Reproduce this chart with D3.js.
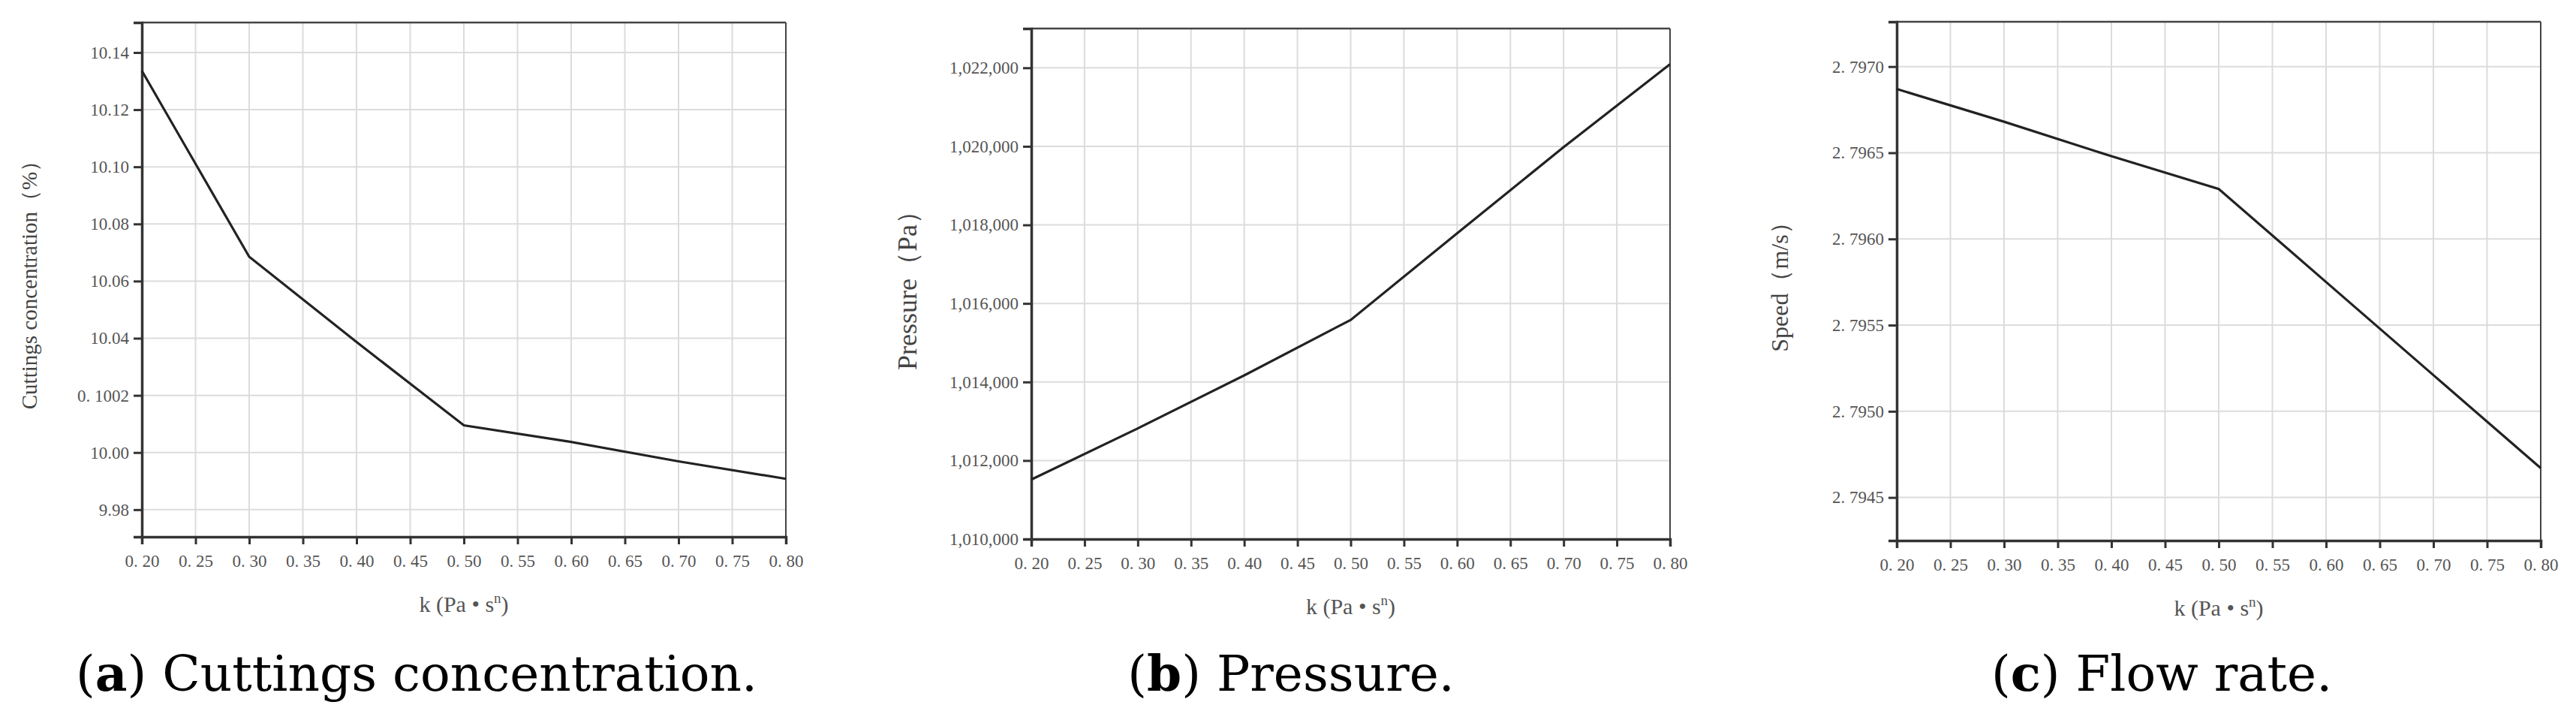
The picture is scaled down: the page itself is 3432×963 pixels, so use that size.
<!DOCTYPE html>
<html><head><meta charset="utf-8">
<script src="https://cdn.jsdelivr.net/npm/d3@7"></script>
<style>body{margin:0;background:#fff}</style></head>
<body><svg id="c" width="3432" height="963"></svg>
<script>
const kValues = [0.2,0.3,0.4,0.5,0.6,0.7,0.8];
const xTicks = [0.2,0.25,0.3,0.35,0.4,0.45,0.5,0.55,0.6,0.65,0.7,0.75,0.8];
const concentration = [10.1336,10.0685,10.0387,10.0095,10.0037,9.9969,9.9908];
const pressure = [1011515,1012818,1014168,1015580,1017785,1019980,1022094];
const speed = [2.79687,2.79668,2.79648,2.79629,2.79575,2.79521,2.79467];
const concTicks = [9.98,10.00,10.02,10.04,10.06,10.08,10.10,10.12,10.14];
const concTickLabels = ["9.98","10.00","0. 1002","10.04","10.06","10.08","10.10","10.12","10.14"];
const presTicks = [1010000,1012000,1014000,1016000,1018000,1020000,1022000];
const presTickLabels = ["1,010,000","1,012,000","1,014,000","1,016,000","1,018,000","1,020,000","1,022,000"];
const speedTicks = [2.7945,2.7950,2.7955,2.7960,2.7965,2.7970];
const speedTickLabels = ["2. 7945","2. 7950","2. 7955","2. 7960","2. 7965","2. 7970"];
const xTitle = "k (Pa • s";
const panels = [
  {l:189,r:1047,t:30,b:715,dom:[9.9705,10.1505],vals:concentration,ticks:concTicks,labels:concTickLabels,
   ytitle:"Cuttings concentration（%）",ytx:42,yts:29,ytw:"condensed",lbold:"a",caption:" Cuttings concentration.",capx:555},
  {l:1374,r:2225,t:38,b:718,dom:[1010000,1023000],vals:pressure,ticks:presTicks,labels:presTickLabels,
   ytitle:"Pressure（Pa）",ytx:1213,yts:36,lbold:"b",caption:" Pressure.",capx:1720},
  {l:2527,r:3385,t:29,b:720,dom:[2.79425,2.79726],vals:speed,ticks:speedTicks,labels:speedTickLabels,
   ytitle:"Speed（m/s）",ytx:2375,yts:32,lbold:"c",caption:" Flow rate.",capx:2880}
];
const svg = d3.select("#c");
const serif = "'Liberation Serif','DejaVu Serif',serif";
panels.forEach(p=>{
  const x = d3.scaleLinear().domain([0.2,0.8]).range([p.l,p.r]);
  const y = d3.scaleLinear().domain(p.dom).range([p.b,p.t]);
  const g = svg.append("g");
  g.selectAll(".vg").data(xTicks).join("line").attr("x1",d=>x(d)).attr("x2",d=>x(d))
    .attr("y1",p.t).attr("y2",p.b).attr("stroke","#dcdcdc").attr("stroke-width",2);
  g.selectAll(".hg").data(p.ticks).join("line").attr("y1",d=>y(d)).attr("y2",d=>y(d))
    .attr("x1",p.l).attr("x2",p.r).attr("stroke","#dcdcdc").attr("stroke-width",2);
  g.append("line").attr("x1",p.l).attr("x2",p.r).attr("y1",p.t).attr("y2",p.t).attr("stroke","#444").attr("stroke-width",2.5);
  g.append("line").attr("x1",p.r).attr("x2",p.r).attr("y1",p.t).attr("y2",p.b).attr("stroke","#444").attr("stroke-width",2);
  const xa = g.append("g").attr("transform",`translate(0,${p.b})`)
    .call(d3.axisBottom(x).tickValues(xTicks).tickSize(10).tickPadding(14).tickFormat(d=>d3.format(".2f")(d).replace(".",". ")));
  const ya = g.append("g").attr("transform",`translate(${p.l},0)`)
    .call(d3.axisLeft(y).tickValues(p.ticks).tickSize(11).tickPadding(6).tickFormat((d,i)=>p.labels[i]));
  [xa,ya].forEach(a=>{
    a.select(".domain").attr("stroke","#333").attr("stroke-width",3.5);
    a.selectAll(".tick line").attr("stroke","#333").attr("stroke-width",3);
    a.selectAll("text").attr("font-family",serif).attr("font-size",23).attr("fill","#555");
  });
  g.append("path").datum(kValues.map((k,i)=>[k,p.vals[i]]))
    .attr("d",d3.line().x(d=>x(d[0])).y(d=>y(d[1])))
    .attr("fill","none").attr("stroke","#222").attr("stroke-width",3.2);
  const xt = g.append("text").attr("x",(p.l+p.r)/2).attr("y",p.b+100).attr("text-anchor","middle")
    .attr("font-family",serif).attr("font-size",30).attr("fill","#555");
  xt.append("tspan").text(xTitle);
  xt.append("tspan").text("n").attr("font-size",19).attr("dy",-12);
  xt.append("tspan").text(")").attr("dy",12);
  g.append("text").attr("transform",`translate(${p.ytx},${(p.t+p.b)/2}) rotate(-90)`)
    .attr("text-anchor","middle").attr("dominant-baseline","middle")
    .attr("font-family",serif).attr("font-size",p.yts).attr("font-stretch",p.ytw||"normal")
    .attr("fill","#444").text(p.ytitle);
  const ct = g.append("text").attr("x",p.capx).attr("y",920).attr("text-anchor","middle")
    .attr("font-family","'DejaVu Serif',serif").attr("font-size",66).attr("fill","#000");
  ct.append("tspan").text("(");
  ct.append("tspan").text(p.lbold).attr("font-weight","bold");
  ct.append("tspan").text(")"+p.caption);
});
</script></body></html>
